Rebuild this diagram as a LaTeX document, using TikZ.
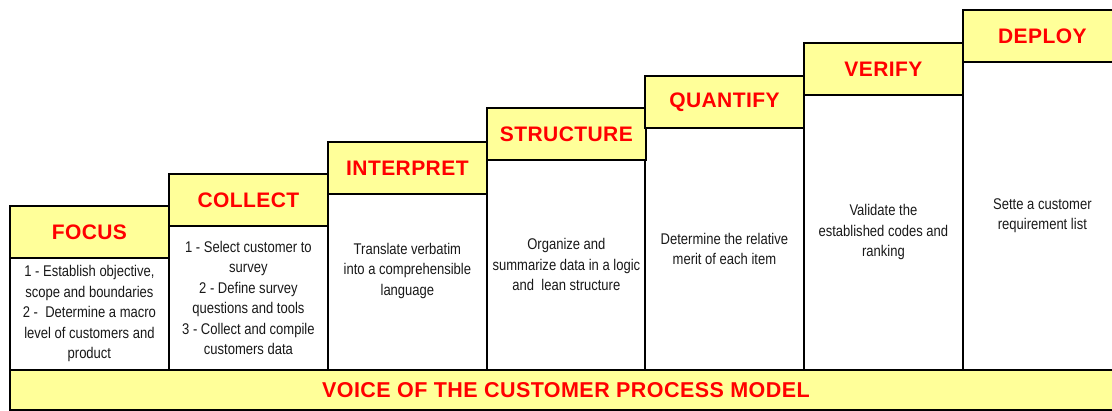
\documentclass[tikz,border=0pt]{standalone}
\usepackage{fontspec}
\setmainfont{Liberation Sans}
\newfontfamily\bodyfont[FakeStretch=0.84]{Liberation Sans}
\newfontfamily\stepfont[LetterSpace=2]{Liberation Sans}
\definecolor{paleyellow}{HTML}{FFFF99}
\definecolor{stepred}{HTML}{FF0000}

\begin{document}
\begin{tikzpicture}[x=1pt,y=-1pt,
  frame/.style={draw=black, line width=1.8pt},
  headbox/.style={frame, fill=paleyellow, minimum width=159pt, minimum height=52pt,
    anchor=north west, inner sep=0pt, text=stepred,
    font=\stepfont\bfseries\fontsize{21}{24}\selectfont},
  bodybox/.style={frame, fill=white, minimum width=159pt, anchor=north west, inner sep=0pt},
  bodytext/.style={align=center, inner sep=0pt, text=black!90,
    font=\bodyfont\fontsize{15.5}{20.5}\selectfont},
  banner/.style={frame, fill=paleyellow, minimum width=1112pt, minimum height=40pt,
    anchor=north west, inner sep=0pt, text=stepred,
    font=\stepfont\bfseries\fontsize{21.5}{24}\selectfont},
]
\useasboundingbox (0,0) rectangle (1112,410);
\clip (0,0) rectangle (1112,410);

% step columns: white body below a yellow heading
\node[bodybox, minimum height=112pt] (b1) at (9,257) {};
\node[bodybox, minimum height=144pt] (b2) at (168,225) {};
\node[bodybox, minimum height=176pt] (b3) at (327,193) {};
\node[bodybox, minimum height=210pt] (b4) at (486,159) {};
\node[bodybox, minimum height=242pt] (b5) at (644,127) {};
\node[bodybox, minimum height=275pt] (b6) at (803,94) {};
\node[bodybox, minimum height=308pt] (b7) at (962,61) {};

\node[headbox] (h1) at (9,205) {FOCUS};
\node[headbox] (h2) at (168,173) {COLLECT};
\node[headbox] (h3) at (327,141) {INTERPRET};
\node[headbox] (h4) at (486,107) {STRUCTURE};
\node[headbox] (h5) at (644,75) {QUANTIFY};
\node[headbox] (h6) at (803,42) {VERIFY};
\node[headbox] (h7) at (962,9) {DEPLOY};

% step descriptions
\node[bodytext] (t1) at (b1.center) {1 - Establish objective,\\ scope and boundaries\\ 2 -\ \ Determine a macro\\ level of customers and\\ product};
\node[bodytext] (t2) at (b2.center) {1 - Select customer to\\ survey\\ 2 - Define survey\\ questions and tools\\ 3 - Collect and compile\\ customers data};
\node[bodytext, yshift=11pt] (t3) at (b3.center) {Translate verbatim\\ into a comprehensible\\ language};
\node[bodytext] (t4) at (b4.center) {Organize and\\ summarize data in a logic\\ and\ \ lean structure};
\node[bodytext] (t5) at (b5.center) {Determine the relative\\ merit of each item};
\node[bodytext] (t6) at (b6.center) {Validate the\\ established codes and\\ ranking};
\node[bodytext] (t7) at (b7.center) {Sette a customer\\ requirement list};

% model title bar along the bottom
\node[banner] (bar) at (9,369) {VOICE OF THE CUSTOMER PROCESS MODEL};
\end{tikzpicture}
\end{document}
